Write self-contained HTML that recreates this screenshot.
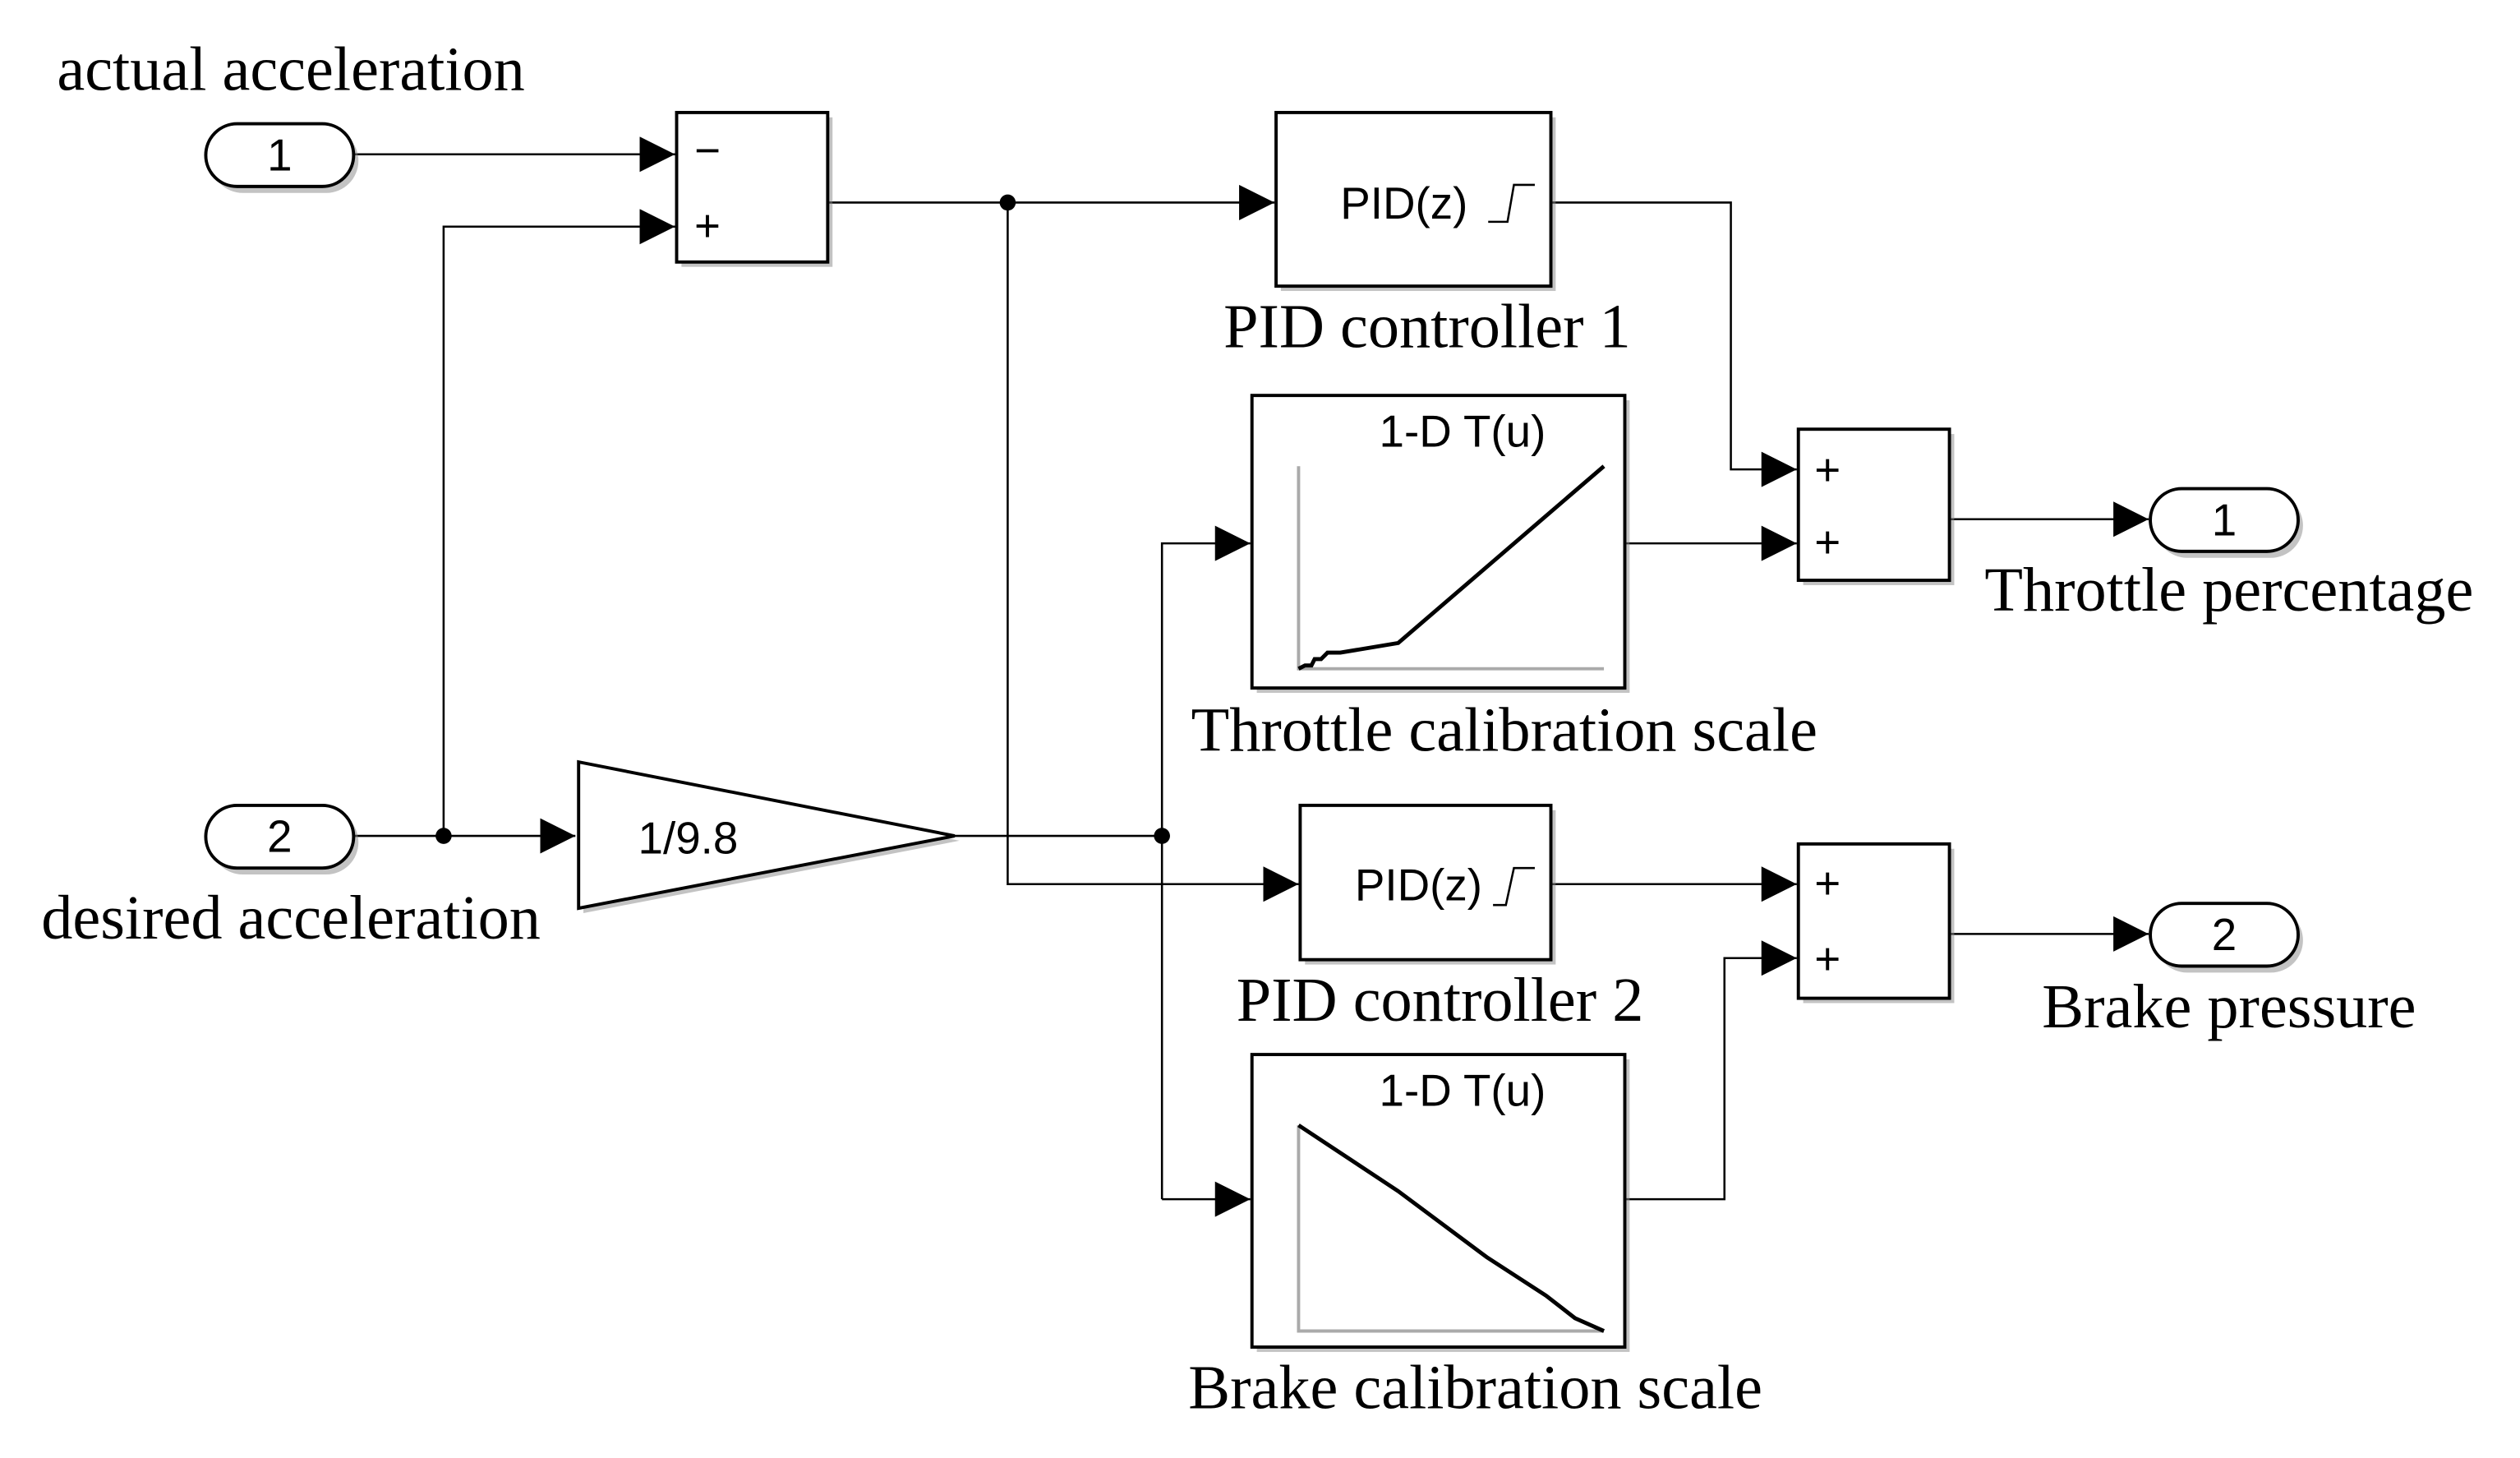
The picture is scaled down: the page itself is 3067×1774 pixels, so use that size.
<!DOCTYPE html>
<html><head><meta charset="utf-8"><style>
html,body{margin:0;padding:0;background:#fff;}
svg{display:block;}
.s{font-family:"Liberation Serif",serif;font-size:39px;fill:#000;text-anchor:middle;}
.a{font-family:"Liberation Sans",sans-serif;font-size:28px;fill:#000;}
.blk{fill:#fff;stroke:#000;stroke-width:2;}
.sh{fill:#888;opacity:0.5;}
.ln{fill:none;stroke:#000;stroke-width:1.3;}
</style></head><body>
<svg width="3067" height="1774" viewBox="0 0 1568 907" xmlns="http://www.w3.org/2000/svg">
<defs>
<marker id="ar" markerWidth="22" markerHeight="22" refX="22" refY="11" orient="auto" markerUnits="userSpaceOnUse">
<path d="M0,0 L22,11 L0,22 Z" fill="#000"/></marker>
</defs>
<rect width="1568" height="907" fill="#fff"/>
<text class="s" x="181" y="56">actual acceleration</text>
<text class="s" x="181" y="584">desired acceleration</text>
<text class="s" x="888" y="216">PID controller 1</text>
<text class="s" x="936" y="467">Throttle calibration scale</text>
<text class="s" x="896" y="635">PID controller 2</text>
<text class="s" x="918" y="876">Brake calibration scale</text>
<text class="s" x="1387" y="380">Throttle percentage</text>
<text class="s" x="1387" y="639">Brake pressure</text>

<path class="ln" d="M220,96 H420" marker-end="url(#ar)"/>
<path class="ln" d="M276,520 V141 H420" marker-end="url(#ar)"/>
<path class="ln" d="M515,126 H793" marker-end="url(#ar)"/>
<path class="ln" d="M627,126 V550 H808" marker-end="url(#ar)"/>
<path class="ln" d="M220,520 H358" marker-end="url(#ar)"/>
<path class="ln" d="M594,520 H723"/>
<path class="ln" d="M723,746 V338 H778" marker-end="url(#ar)"/>
<path class="ln" d="M723,746 H778" marker-end="url(#ar)"/>
<path class="ln" d="M965,126 H1077 V292 H1118" marker-end="url(#ar)"/>
<path class="ln" d="M1011,338 H1118" marker-end="url(#ar)"/>
<path class="ln" d="M965,550 H1118" marker-end="url(#ar)"/>
<path class="ln" d="M1011,746 H1073 V596 H1118" marker-end="url(#ar)"/>
<path class="ln" d="M1213,323 H1337" marker-end="url(#ar)"/>
<path class="ln" d="M1213,581 H1337" marker-end="url(#ar)"/>
<circle cx="627" cy="126" r="5" fill="#000"/>
<circle cx="276" cy="520" r="5" fill="#000"/>
<circle cx="723" cy="520" r="5" fill="#000"/>

<rect class="sh" x="131" y="80" width="92" height="40" rx="20"/>
<rect class="blk" x="128" y="77" width="92" height="39" rx="19.5"/>
<text class="a" x="174" y="106" text-anchor="middle">1</text>
<rect class="sh" x="131" y="504" width="92" height="40" rx="20"/>
<rect class="blk" x="128" y="501" width="92" height="39" rx="19.5"/>
<text class="a" x="174" y="530" text-anchor="middle">2</text>
<rect class="sh" x="1341" y="307" width="92" height="40" rx="20"/>
<rect class="blk" x="1338" y="304" width="92" height="39" rx="19.5"/>
<text class="a" x="1384" y="333" text-anchor="middle">1</text>
<rect class="sh" x="1341" y="565" width="92" height="40" rx="20"/>
<rect class="blk" x="1338" y="562" width="92" height="39" rx="19.5"/>
<text class="a" x="1384" y="591" text-anchor="middle">2</text>

<rect class="sh" x="424" y="73" width="94" height="93"/>
<rect class="blk" x="421" y="70" width="94" height="93"/>
<text class="a" x="432" y="103">−</text>
<text class="a" x="432" y="150">+</text>
<rect class="sh" x="1122" y="270" width="94" height="94"/>
<rect class="blk" x="1119" y="267" width="94" height="94"/>
<text class="a" x="1129" y="302">+</text>
<text class="a" x="1129" y="347">+</text>
<rect class="sh" x="1122" y="528" width="94" height="96"/>
<rect class="blk" x="1119" y="525" width="94" height="96"/>
<text class="a" x="1129" y="559">+</text>
<text class="a" x="1129" y="606">+</text>

<rect class="sh" x="797" y="73" width="171" height="108"/>
<rect class="blk" x="794" y="70" width="171" height="108"/>
<text class="a" x="834" y="136">PID(z)</text>
<path class="ln" d="M926,138 H938 L942,115 H955"/>
<rect class="sh" x="812" y="504" width="156" height="96"/>
<rect class="blk" x="809" y="501" width="156" height="96"/>
<text class="a" x="843" y="560">PID(z)</text>
<path class="ln" d="M929,563 H937 L942,540 H955"/>

<path d="M363,477 L363,568 L597,523 Z" fill="#888" opacity="0.5"/>
<path class="blk" d="M360,474 L360,565 L594,520 Z"/>
<text class="a" x="397" y="531">1/9.8</text>

<rect class="sh" x="782" y="249" width="232" height="182"/>
<rect class="blk" x="779" y="246" width="232" height="182"/>
<text class="a" x="910" y="278" text-anchor="middle">1-D T(u)</text>
<path d="M808,290 V416 H998" fill="none" stroke="#aaa" stroke-width="2"/>
<path d="M808,416 L812,414 L816,414 L818,410 L822,410 L826,406 L834,406 L870,400 L998,290" fill="none" stroke="#000" stroke-width="2.5"/>
<rect class="sh" x="782" y="659" width="232" height="182"/>
<rect class="blk" x="779" y="656" width="232" height="182"/>
<text class="a" x="910" y="688" text-anchor="middle">1-D T(u)</text>
<path d="M808,700 V828 H998" fill="none" stroke="#aaa" stroke-width="2"/>
<path d="M808,700 L870,741 L925,782 L962,806 L980,820 L998,828" fill="none" stroke="#000" stroke-width="2.5"/>
</svg>
</body></html>
